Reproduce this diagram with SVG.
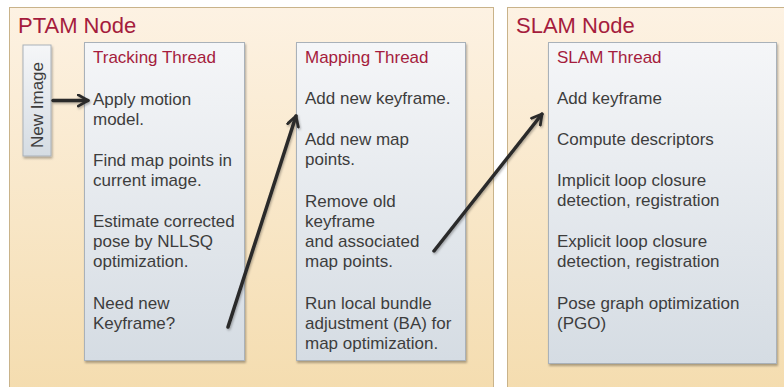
<svg xmlns="http://www.w3.org/2000/svg" width="784" height="387" viewBox="0 0 784 387">
<defs>
<linearGradient id="gNode" x1="0" y1="0" x2="0" y2="1">
<stop offset="0" stop-color="#fdf2e3"/>
<stop offset="1" stop-color="#f4dcae"/>
</linearGradient>
<linearGradient id="gThread" x1="0" y1="0" x2="0" y2="1">
<stop offset="0" stop-color="#f5f6f8"/>
<stop offset="1" stop-color="#d5dce3"/>
</linearGradient>
<filter id="sh" x="-10%" y="-10%" width="130%" height="130%">
<feDropShadow dx="1" dy="2" stdDeviation="1.2" flood-color="#000" flood-opacity="0.3"/>
</filter>
<filter id="shc" filterUnits="userSpaceOnUse" x="0" y="0" width="784" height="387">
<feDropShadow dx="1" dy="1.5" stdDeviation="1" flood-color="#000" flood-opacity="0.3"/>
</filter>
<marker id="ah" viewBox="0 0 10 10" refX="8" refY="5" markerWidth="4" markerHeight="4" orient="auto" markerUnits="strokeWidth">
<path d="M1,1 L8,5 L1,9" fill="none" stroke="#2b2b2b" stroke-width="2" stroke-linecap="round" stroke-linejoin="round"/>
</marker>
</defs>
<style>
.node{fill:url(#gNode);stroke:#c9b38a;stroke-width:1}
.thr{fill:url(#gThread);stroke:#a9b1b9;stroke-width:1;filter:url(#sh)}
.ttl{font-family:"Liberation Sans",Arial,sans-serif;fill:#a51c3d}
.big{font-size:22px}
.hd{font-size:17px}
.tx{font-family:"Liberation Sans",Arial,sans-serif;font-size:17px;fill:#3d3d3d}
.con{stroke:#2b2b2b;stroke-width:3.5;fill:none;stroke-linecap:round;marker-end:url(#ah);filter:url(#shc)}
</style>
<rect width="784" height="387" fill="#ffffff"/>
<g id="ptam-node">
<rect class="node" x="9.5" y="7.5" width="484" height="392"/>
<text class="ttl big" x="18" y="33">PTAM Node</text>
</g>
<g id="slam-node">
<rect class="node" x="507.5" y="7.5" width="290" height="392"/>
<text class="ttl big" x="516" y="33">SLAM Node</text>
</g>
<g id="new-image">
<rect class="thr" x="23" y="45" width="28" height="111"/>
<text class="tx" transform="translate(43,105) rotate(-90)" text-anchor="middle">New Image</text>
</g>
<g id="tracking-thread">
<rect class="thr" x="84.5" y="42.5" width="160" height="318"/>
<text class="ttl hd" x="93" y="63">Tracking Thread</text>
<text class="tx" x="93" y="105">Apply motion</text>
<text class="tx" x="93" y="125">model.</text>
<text class="tx" x="93" y="166">Find map points in</text>
<text class="tx" x="93" y="186">current image.</text>
<text class="tx" x="93" y="227">Estimate corrected</text>
<text class="tx" x="93" y="247">pose by NLLSQ</text>
<text class="tx" x="93" y="267">optimization.</text>
<text class="tx" x="93" y="309">Need new</text>
<text class="tx" x="93" y="329">Keyframe?</text>
</g>
<g id="mapping-thread">
<rect class="thr" x="296.5" y="42.5" width="169" height="318"/>
<text class="ttl hd" x="305" y="63">Mapping Thread</text>
<text class="tx" x="305" y="104">Add new keyframe.</text>
<text class="tx" x="305" y="144.5">Add new map</text>
<text class="tx" x="305" y="164.5">points.</text>
<text class="tx" x="305" y="206.5">Remove old</text>
<text class="tx" x="305" y="226.5">keyframe</text>
<text class="tx" x="305" y="246.5">and associated</text>
<text class="tx" x="305" y="266.5">map points.</text>
<text class="tx" x="305" y="309">Run local bundle</text>
<text class="tx" x="305" y="329">adjustment (BA) for</text>
<text class="tx" x="305" y="349">map optimization.</text>
</g>
<g id="slam-thread">
<rect class="thr" x="548.5" y="42.5" width="228" height="321"/>
<text class="ttl hd" x="557" y="63">SLAM Thread</text>
<text class="tx" x="557" y="104">Add keyframe</text>
<text class="tx" x="557" y="145">Compute descriptors</text>
<text class="tx" x="557" y="185.5">Implicit loop closure</text>
<text class="tx" x="557" y="205.5">detection, registration</text>
<text class="tx" x="557" y="247">Explicit loop closure</text>
<text class="tx" x="557" y="267">detection, registration</text>
<text class="tx" x="557" y="309">Pose graph optimization</text>
<text class="tx" x="557" y="329">(PGO)</text>
</g>
<g id="connectors">
<path class="con" d="M53,100.5 L88,100.5"/>
<path class="con" d="M228,327 L296,116"/>
<path class="con" d="M434,251 L542,114"/>
</g>
</svg>
